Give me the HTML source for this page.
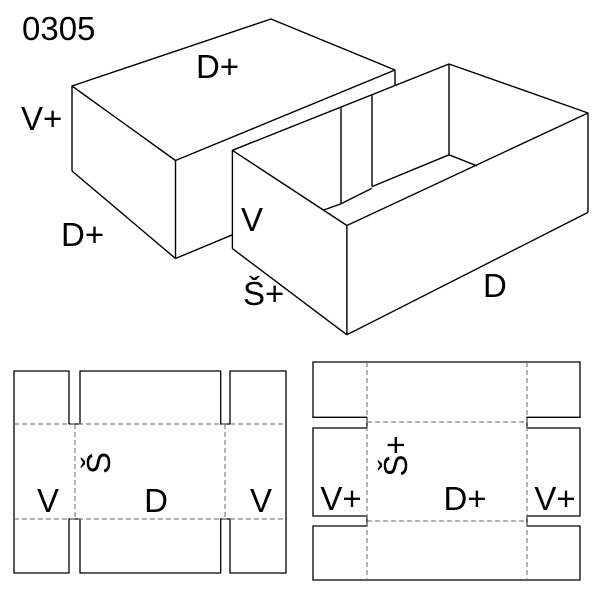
<!DOCTYPE html>
<html><head><style>
html,body{margin:0;padding:0;background:#fff;}
svg{display:block;}
text{font-family:"Liberation Sans",sans-serif;fill:#000;}
</style></head><body>
<svg width="600" height="600" viewBox="0 0 600 600" xmlns="http://www.w3.org/2000/svg">
<g fill="none" stroke="#000" stroke-width="1.4" stroke-linejoin="round">
<!-- lid -->
<polyline points="175.5,160.5 72,86 271,19 395,70 175.5,160.5"/>
<line x1="395" y1="70" x2="395" y2="85"/>
<line x1="72" y1="86" x2="72" y2="171"/>
<line x1="72" y1="171" x2="175.5" y2="258.5"/>
<line x1="175.5" y1="160.5" x2="175.5" y2="258.5"/>
<line x1="175.5" y1="258.5" x2="232.4" y2="234.8"/>
<!-- box -->
<polygon points="232.4,150.3 449,64 588,113 346.9,225.5" fill="#fff"/>
<line x1="232.4" y1="150.3" x2="232.4" y2="248.6"/>
<line x1="232.4" y1="248.6" x2="346.9" y2="334.8"/>
<line x1="346.9" y1="225.5" x2="346.9" y2="334.8"/>
<line x1="346.9" y1="334.8" x2="588" y2="212.4"/>
<line x1="588" y1="113" x2="588" y2="212.4"/>
<line x1="449" y1="64" x2="449" y2="154.8"/>
<line x1="449" y1="154.8" x2="477" y2="165.9"/>
<line x1="449" y1="154.8" x2="372" y2="186.6"/>
<line x1="372" y1="95" x2="372" y2="186.6"/>
<line x1="341" y1="107" x2="341" y2="203.8"/>
<line x1="341" y1="203.8" x2="372" y2="188.3"/>
<line x1="323.8" y1="210" x2="341" y2="203.8"/>
</g>
<text x="22" y="40" font-size="33">0305</text>
<text x="196" y="78" font-size="33">D+</text>
<text x="21" y="130" font-size="33">V+</text>
<text x="61" y="246" font-size="33">D+</text>
<text x="241" y="231" font-size="33">V</text>
<text x="243" y="305" font-size="33">Š+</text>
<text x="483" y="297" font-size="33">D</text>

<!-- left net -->
<g fill="none" stroke="#000" stroke-width="1.3">
<polyline points="69,424 69,371 14,371 14,573 69,573 69,519 75,519"/>
<polyline points="75,424 69,424"/>
<polyline points="75,424 80,424 80,371 220.7,371 220.7,424 230,424 230,371 286,371 286,573 230,573 230,519 220.7,519 220.7,573 80,573 80,519 75,519"/>
</g>
<g fill="none" stroke="#666" stroke-width="1" stroke-dasharray="5,3">
<line x1="14" y1="424" x2="286" y2="424"/>
<line x1="14" y1="519" x2="286" y2="519"/>
<line x1="75" y1="424" x2="75" y2="519"/>
<line x1="225" y1="424" x2="225" y2="519"/>
</g>
<text x="48" y="512" font-size="33" text-anchor="middle">V</text>
<text x="156" y="512" font-size="33" text-anchor="middle">D</text>
<text x="261" y="512" font-size="33" text-anchor="middle">V</text>
<text transform="translate(110,463) rotate(-90)" font-size="33" text-anchor="middle">Š</text>

<!-- right net -->
<g fill="none" stroke="#000" stroke-width="1.3">
<polyline points="367,417.3 313,417.3 313,362 580,362 580,417.3 527,417.3 527,422"/>
<polyline points="367,417.3 367,422"/>
<polyline points="367,428 313,428 313,516 367,516 367,521"/>
<polyline points="527,428 580,428 580,516 527,516 527,521"/>
<polyline points="367,428 367,422"/>
<polyline points="527,428 527,422"/>
<polyline points="367,526 313,526 313,580 580,580 580,526 527,526 527,521"/>
<polyline points="367,526 367,521"/>
</g>
<g fill="none" stroke="#666" stroke-width="1" stroke-dasharray="5,3">
<line x1="367" y1="422" x2="527" y2="422"/>
<line x1="367" y1="521" x2="527" y2="521"/>
<line x1="367" y1="362" x2="367" y2="580"/>
<line x1="527" y1="362" x2="527" y2="580"/>
</g>
<text x="341" y="510" font-size="33" text-anchor="middle">V+</text>
<text x="465" y="510" font-size="33" text-anchor="middle">D+</text>
<text x="555" y="510" font-size="33" text-anchor="middle">V+</text>
<text transform="translate(407,456) rotate(-90)" font-size="33" text-anchor="middle">Š+</text>
</svg>
</body></html>
